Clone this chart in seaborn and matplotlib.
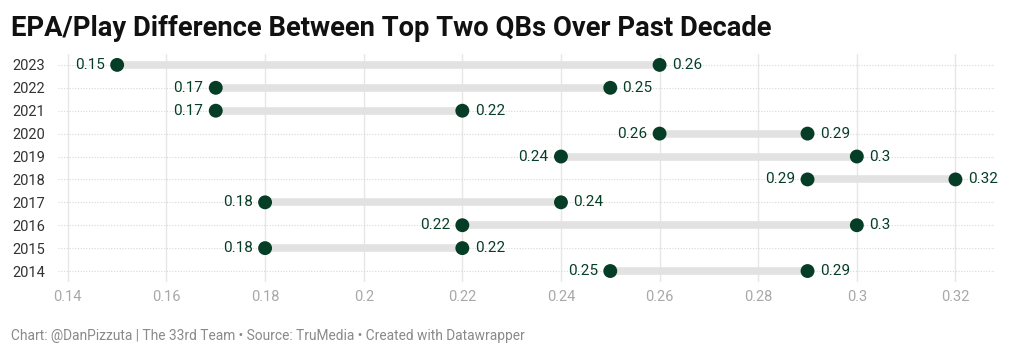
import matplotlib
matplotlib.use("Agg")
import matplotlib.pyplot as plt
import seaborn as sns
import pandas as pd

# Daten
years = ["2023", "2022", "2021", "2020", "2019", "2018", "2017", "2016", "2015", "2014"]
low = [0.15, 0.17, 0.17, 0.26, 0.24, 0.29, 0.18, 0.22, 0.18, 0.25]
high = [0.26, 0.25, 0.22, 0.29, 0.30, 0.32, 0.24, 0.30, 0.22, 0.29]
x_ticks = [0.14, 0.16, 0.18, 0.20, 0.22, 0.24, 0.26, 0.28, 0.30, 0.32]
x_tick_labels = ["0.14", "0.16", "0.18", "0.2", "0.22", "0.24", "0.26", "0.28", "0.3", "0.32"]

green = "#063d26"

sns.set_theme(style="white")
plt.rcParams["font.family"] = ["Roboto", "DejaVu Sans"]

df = pd.DataFrame({"year": years * 2, "value": low + high})

fig = plt.figure(figsize=(10.24, 3.57), dpi=100)
ax = fig.add_axes([0.0566, 0.21, 0.915, 0.639])

pos = list(range(len(years)))
ax.hlines(pos, low, high, color="#e2e2e2", linewidth=5.5, zorder=1)
sns.scatterplot(data=df, x="value", y="year", color=green, s=100,
                edgecolor="none", ax=ax, zorder=3)

def fmt(v):
    return ("%.2f" % v).rstrip("0")

for i, (lo, hi) in enumerate(zip(low, high)):
    ax.text(lo - 0.0025, i, fmt(lo), ha="right", va="center",
            color=green, fontsize=11)
    ax.text(hi + 0.0025, i, fmt(hi), ha="left", va="center",
            color=green, fontsize=11)

ax.set_xlim(0.138, 0.328)
ax.set_ylim(9.48, -0.48)
ax.set_xticks(x_ticks)
ax.set_xticklabels(x_tick_labels)
ax.set_yticks(pos)
ax.set_yticklabels(years)
ax.set_xlabel("")
ax.set_ylabel("")

for v in x_ticks:
    ax.axvline(v, color="#e6e6e6", linewidth=1, zorder=0)
for i in pos:
    ax.axhline(i, color="#d8d8d8", linewidth=0.8, linestyle=(0, (1, 1.5)), zorder=0)

for s in ax.spines.values():
    s.set_visible(False)
ax.tick_params(axis="x", length=0, labelsize=10.5, labelcolor="#a8a8a8", pad=6)
ax.tick_params(axis="y", length=0, labelsize=10.5, labelcolor="#333333", pad=33)
for lab in ax.get_yticklabels():
    lab.set_horizontalalignment("left")

fig.text(0.011, 0.92, "EPA/Play Difference Between Top Two QBs Over Past Decade",
         fontsize=19.7, fontweight="bold", color="#111111", va="center")
fig.text(0.011, 0.06, "Chart: @DanPizzuta | The 33rd Team \u2022 Source: TruMedia \u2022 Created with Datawrapper",
         fontsize=9.9, color="#8a8a8a", va="center")

fig.savefig("out.png", dpi=100)
